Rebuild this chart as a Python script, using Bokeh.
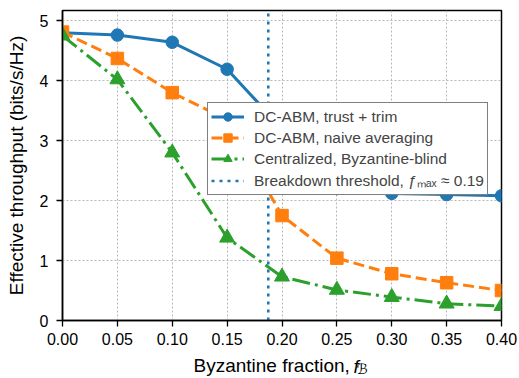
from bokeh.plotting import figure
from bokeh.models import Range1d, FixedTicker, PrintfTickFormatter, Legend, LegendItem, Label
from bokeh.embed import file_html
from bokeh.resources import INLINE

# ---- data ----
f_byz = [0.00, 0.05, 0.10, 0.15, 0.20, 0.25, 0.30, 0.35, 0.40]
trust_trim = [4.80, 4.76, 4.64, 4.19, 3.20, 2.20, 2.12, 2.10, 2.08]
naive_avg = [4.81, 4.37, 3.80, 3.35, 1.75, 1.04, 0.78, 0.63, 0.50]
central_blind = [4.75, 4.02, 2.80, 1.38, 0.73, 0.51, 0.39, 0.28, 0.24]
f_max = 0.1875
x_ticks = [0.00, 0.05, 0.10, 0.15, 0.20, 0.25, 0.30, 0.35, 0.40]
y_ticks = [0, 1, 2, 3, 4, 5]
x_lim = (0.0, 0.40)
y_lim = (0.0, 5.17)
series_labels = ["DC-ABM, trust + trim", "DC-ABM, naive averaging",
                 "Centralized, Byzantine-blind",
                 "Breakdown threshold, \u0192\u2098\u2090\u2093 \u2248 0.19"]
xlabel_main = "Byzantine fraction,"
xlabel_sym = "f"
xlabel_sub = "\u212C"
ylabel = "Effective throughput (bits/s/Hz)"

BLUE, ORANGE, GREEN = "#1f77b4", "#ff7f0e", "#2ca02c"
FONT = "Liberation Sans"

p = figure(width=519, height=378, output_backend="svg", toolbar_location=None,
           x_range=Range1d(*x_lim), y_range=Range1d(*y_lim),
           min_border_left=62, min_border_right=18, min_border_top=10, min_border_bottom=58)

p.background_fill_color = "white"
p.border_fill_color = "white"
p.outline_line_color = "black"
p.outline_line_width = 1.5

for ax in (p.xaxis, p.yaxis):
    ax.axis_line_color = "black"
    ax.axis_line_width = 1.5
    ax.major_tick_line_color = "black"
    ax.major_tick_line_width = 1.3
    ax.major_tick_out = 6
    ax.major_tick_in = 0
    ax.minor_tick_line_color = None
    ax.major_label_text_font = FONT
    ax.major_label_text_font_size = "16px"
    ax.major_label_text_color = "black"

p.xaxis.ticker = FixedTicker(ticks=x_ticks)
p.xaxis.formatter = PrintfTickFormatter(format="%.2f")
p.xaxis.major_label_standoff = 6
p.yaxis.ticker = FixedTicker(ticks=y_ticks)
p.yaxis.major_label_standoff = 8
p.yaxis.axis_label = ylabel
p.yaxis.axis_label_text_font = FONT
p.yaxis.axis_label_text_font_size = "19px"
p.yaxis.axis_label_text_font_style = "normal"
p.yaxis.axis_label_text_color = "black"
p.yaxis.axis_label_standoff = 10

for g in (p.xgrid, p.ygrid):
    g.grid_line_color = "#b0b0b0"
    g.grid_line_width = 0.9
    g.grid_line_dash = "2 2"

l1 = p.line(f_byz, trust_trim, color=BLUE, line_width=3, line_join="round")
s1 = p.scatter(f_byz, trust_trim, marker="circle", size=12.5, color=BLUE)
l2 = p.line(f_byz, naive_avg, color=ORANGE, line_width=3, line_dash="11 5")
s2 = p.scatter(f_byz, naive_avg, marker="square", size=12.5, color=ORANGE)
l3 = p.line(f_byz, central_blind, color=GREEN, line_width=3, line_dash="18 5 3 5")
s3 = p.scatter(f_byz, central_blind, marker="triangle", size=15, color=GREEN)
l4 = p.line([f_max, f_max], list(y_lim), color=BLUE, line_width=2.6, line_dash="3 5")

legend = Legend(items=[LegendItem(label=series_labels[0], renderers=[l1, s1]),
                       LegendItem(label=series_labels[1], renderers=[l2, s2]),
                       LegendItem(label=series_labels[2], renderers=[l3, s3]),
                       LegendItem(label=series_labels[3], renderers=[l4])],
                location=(145, 125), margin=0, padding=3, spacing=0,
                glyph_width=33, glyph_height=21, label_height=21, label_standoff=10,
                label_text_font=FONT, label_text_font_size="15.5px",
                border_line_color="black", border_line_width=1.5,
                background_fill_color="white", background_fill_alpha=1.0)
p.add_layout(legend)

common = dict(x_units="screen", y_units="screen", text_baseline="alphabetic",
              text_align="left", text_color="black")
p.add_layout(Label(x=131, y=3, text=xlabel_main, text_font=FONT,
                   text_font_size="19px", **common), "below")
p.add_layout(Label(x=-148, y=-46, text=xlabel_sym, text_font=FONT,
                   text_font_style="italic", text_font_size="19px", **common), "right")
p.add_layout(Label(x=-150, y=-48, text=xlabel_sub, text_font="DejaVu Sans",
                   text_font_style="italic", text_font_size="14px", **common), "right")

open("out.html", "w").write(file_html(p, INLINE))
